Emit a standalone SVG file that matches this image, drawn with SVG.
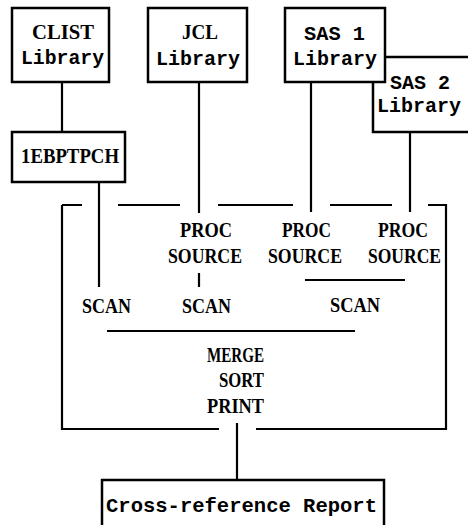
<svg xmlns="http://www.w3.org/2000/svg" width="468" height="525" viewBox="0 0 468 525">
<style>
.box{fill:#fff;stroke:#000;stroke-width:2.5}
.ln{fill:none;stroke:#000;stroke-width:2.2}
.sf{font-family:"Liberation Serif","Times New Roman",serif;font-size:21px;font-weight:bold;fill:#000}
.mo{font-family:"Liberation Mono","Courier New",monospace;font-size:21px;font-weight:bold;fill:#000}
</style>
<rect width="468" height="525" fill="#fff"/>
<g id="frame">
<path class="ln" d="M62,205 H82 M118,205 H180 M218,205 H293 M330,205 H392 M428,205 H446 V429 H256 M219,429 H62 V205"/>
</g>
<g id="connectors">
<path class="ln" d="M62,82 V132"/>
<path class="ln" d="M99,182 V287"/>
<path class="ln" d="M199,82 V213"/>
<path class="ln" d="M311,82 V212"/>
<path class="ln" d="M410,132 V212"/>
<path class="ln" d="M199,273 V287"/>
<path class="ln" d="M305,280 H405"/>
<path class="ln" d="M107,331 H355"/>
<path class="ln" d="M237,423 V480"/>
</g>
<g id="clist">
<rect class="box" x="12" y="8" width="97" height="74"/>
<text class="sf" x="32" y="39" textLength="62" lengthAdjust="spacingAndGlyphs">CLIST</text>
<text class="mo" x="21" y="64" textLength="83" lengthAdjust="spacingAndGlyphs">Library</text>
</g>
<g id="jcl">
<rect class="box" x="148" y="8" width="99" height="74"/>
<text class="sf" x="182" y="39" textLength="36" lengthAdjust="spacingAndGlyphs">JCL</text>
<text class="mo" x="156" y="65" textLength="84" lengthAdjust="spacingAndGlyphs">Library</text>
</g>
<g id="sas2">
<path class="box" d="M373,82 V132 H472 M385,57 H472"/>
<text class="mo" x="390" y="89" textLength="60" lengthAdjust="spacingAndGlyphs">SAS 2</text>
<text class="mo" x="377" y="112" textLength="84" lengthAdjust="spacingAndGlyphs">Library</text>
</g>
<g id="sas1">
<rect class="box" x="285" y="8" width="100" height="74"/>
<text class="mo" x="304" y="40" textLength="61" lengthAdjust="spacingAndGlyphs">SAS 1</text>
<text class="mo" x="293" y="65" textLength="84" lengthAdjust="spacingAndGlyphs">Library</text>
</g>
<g id="iebptpch">
<rect class="box" x="12" y="132" width="113" height="50"/>
<text class="sf" x="21" y="163" textLength="98" lengthAdjust="spacingAndGlyphs">1EBPTPCH</text>
</g>
<g id="proc-jcl">
<text class="sf" x="180" y="237" textLength="52" lengthAdjust="spacingAndGlyphs">PROC</text>
<text class="sf" x="168" y="263" textLength="74" lengthAdjust="spacingAndGlyphs">SOURCE</text>
</g>
<g id="proc-sas1">
<text class="sf" x="282" y="237" textLength="49" lengthAdjust="spacingAndGlyphs">PROC</text>
<text class="sf" x="268" y="263" textLength="74" lengthAdjust="spacingAndGlyphs">SOURCE</text>
</g>
<g id="proc-sas2">
<text class="sf" x="378" y="237" textLength="50" lengthAdjust="spacingAndGlyphs">PROC</text>
<text class="sf" x="368" y="263" textLength="73" lengthAdjust="spacingAndGlyphs">SOURCE</text>
</g>
<g id="scan-clist">
<text class="sf" x="82" y="313" textLength="49" lengthAdjust="spacingAndGlyphs">SCAN</text>
</g>
<g id="scan-jcl">
<text class="sf" x="182" y="313" textLength="49" lengthAdjust="spacingAndGlyphs">SCAN</text>
</g>
<g id="scan-sas">
<text class="sf" x="330" y="312" textLength="50" lengthAdjust="spacingAndGlyphs">SCAN</text>
</g>
<g id="merge">
<text class="sf" x="207" y="362" textLength="57" lengthAdjust="spacingAndGlyphs">MERGE</text>
<text class="sf" x="219" y="387" textLength="45" lengthAdjust="spacingAndGlyphs">SORT</text>
<text class="sf" x="207" y="413" textLength="57" lengthAdjust="spacingAndGlyphs">PRINT</text>
</g>
<g id="report">
<rect class="box" x="102" y="480" width="282" height="60"/>
<text class="mo" x="106" y="512" textLength="271" lengthAdjust="spacingAndGlyphs">Cross-reference Report</text>
</g>
</svg>
